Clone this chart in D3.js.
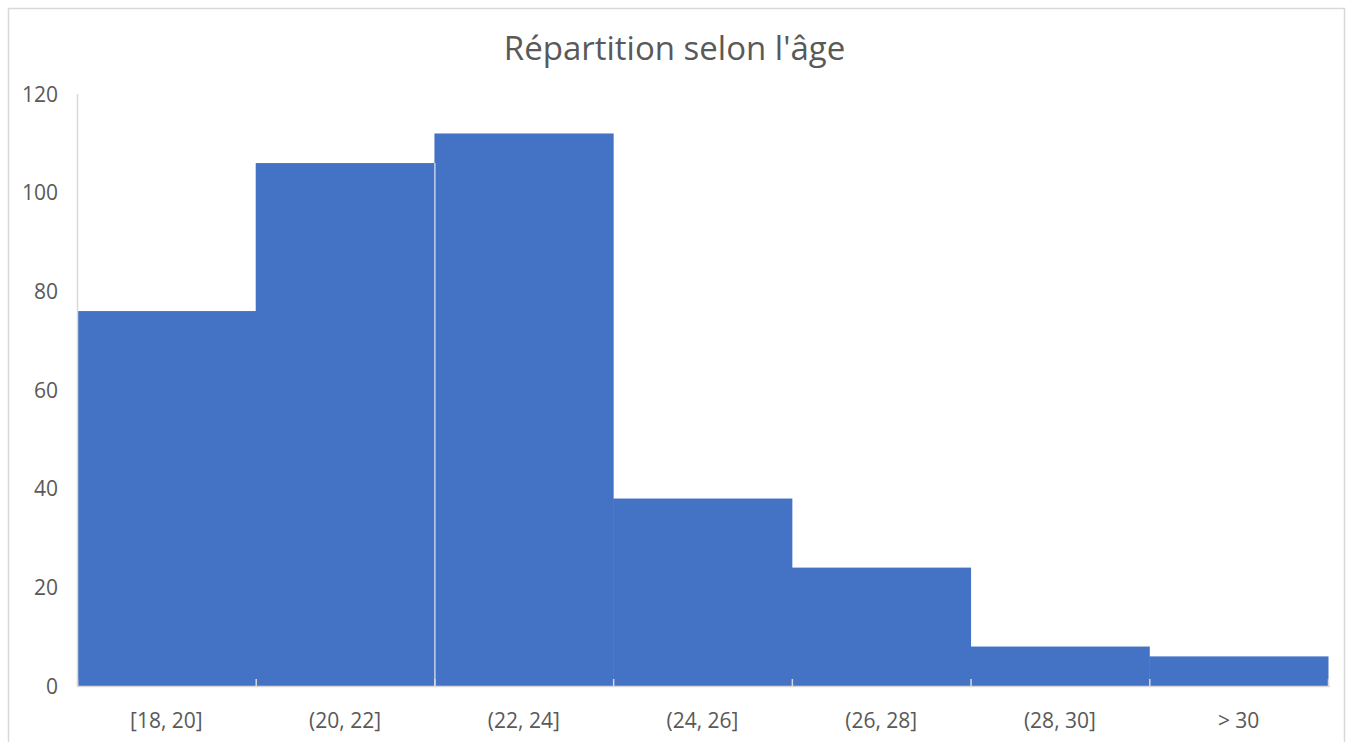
<!DOCTYPE html>
<html>
<head>
<meta charset="utf-8">
<script src="https://cdn.jsdelivr.net/npm/d3@7"></script>
<style>
  body { margin: 0; background: #fff; }
  text { font-family: "Open Sans", "Noto Sans", sans-serif; fill: #595959; }
</style>
</head>
<body>
<div id="chart"></div>
<script>
// categories and counts
var categories = ["[18, 20]", "(20, 22]", "(22, 24]", "(24, 26]", "(26, 28]", "(28, 30]", "> 30"]
var counts = [76, 106, 112, 38, 24, 8, 6]
var yTicks = [0, 20, 40, 60, 80, 100, 120]
var title = "Répartition selon l'âge"

var svgw = 1349
var svgh = 742
var margin = {top: 94, right: 21, bottom: 56, left: 77}
var w = svgw - margin.left - margin.right
var h = svgh - margin.top - margin.bottom

var svg = d3.select('#chart').append('svg')
    .attr('width', svgw)
    .attr('height', svgh)

// chart frame
svg.append('rect')
    .attr('x', 8.5).attr('y', 8.5)
    .attr('width', 1336).attr('height', 740)
    .attr('fill', 'none')
    .attr('stroke', '#d9d9d9')
    .attr('stroke-width', 1.5)

svg.append('text')
    .attr('x', svgw / 2)
    .attr('y', 60)
    .attr('text-anchor', 'middle')
    .style('font-size', '33px')
    .text(title)

var g = svg.append('g').attr('transform', 'translate(' + margin.left + ',' + margin.top + ')')

var x = d3.scaleBand()
    .domain(categories)
    .range([0, w])
    .padding(0)

var y = d3.scaleLinear()
    .domain([0, 120])
    .range([h, 0])

// bars
g.selectAll('.bar')
    .data(counts)
    .enter()
    .append('rect')
    .attr('class', 'bar')
    .attr('x', function(d, i) { return x(categories[i]) })
    .attr('width', x.bandwidth() + 0.5)
    .attr('y', function(d) { return y(d) })
    .attr('height', function(d) { return h - y(d) })
    .attr('fill', '#4472c4')

// thin white seam between the two tallest bars, as in the picture
g.append('line')
    .attr('x1', x(categories[2]) + 0.5).attr('x2', x(categories[2]) + 0.5)
    .attr('y1', y(Math.min(counts[1], counts[2]))).attr('y2', h)
    .attr('stroke', '#fff')
    .attr('stroke-width', 1)

// y axis: line and labels only
g.append('line')
    .attr('x1', 0.5).attr('x2', 0.5)
    .attr('y1', y(120)).attr('y2', h)
    .attr('stroke', '#d9d9d9')
    .attr('stroke-width', 1.5)

g.selectAll('.ylab')
    .data(yTicks)
    .enter()
    .append('text')
    .attr('class', 'ylab')
    .attr('x', -19)
    .attr('y', function(d) { return y(d) })
    .attr('dy', '0.36em')
    .attr('text-anchor', 'end')
    .style('font-size', '21px')
    .text(function(d) { return d })

// x axis line, tick marks at category boundaries (pointing up), labels
g.append('line')
    .attr('x1', 0).attr('x2', w + 2)
    .attr('y1', h + 0.5).attr('y2', h + 0.5)
    .attr('stroke', '#d9d9d9')
    .attr('stroke-width', 1.5)

var bounds = categories.map(function(c) { return x(c) }).concat([w])
g.selectAll('.xtick')
    .data(bounds)
    .enter()
    .append('line')
    .attr('class', 'xtick')
    .attr('x1', function(d) { return d + 0.5 })
    .attr('x2', function(d) { return d + 0.5 })
    .attr('y1', h - 7).attr('y2', h)
    .attr('stroke', '#d9d9d9')
    .attr('stroke-width', 1.5)

g.selectAll('.xlab')
    .data(categories)
    .enter()
    .append('text')
    .attr('class', 'xlab')
    .attr('x', function(d) { return x(d) + x.bandwidth() / 2 })
    .attr('y', h + 42)
    .attr('text-anchor', 'middle')
    .style('font-size', '21px')
    .text(function(d) { return d })
</script>
</body>
</html>
